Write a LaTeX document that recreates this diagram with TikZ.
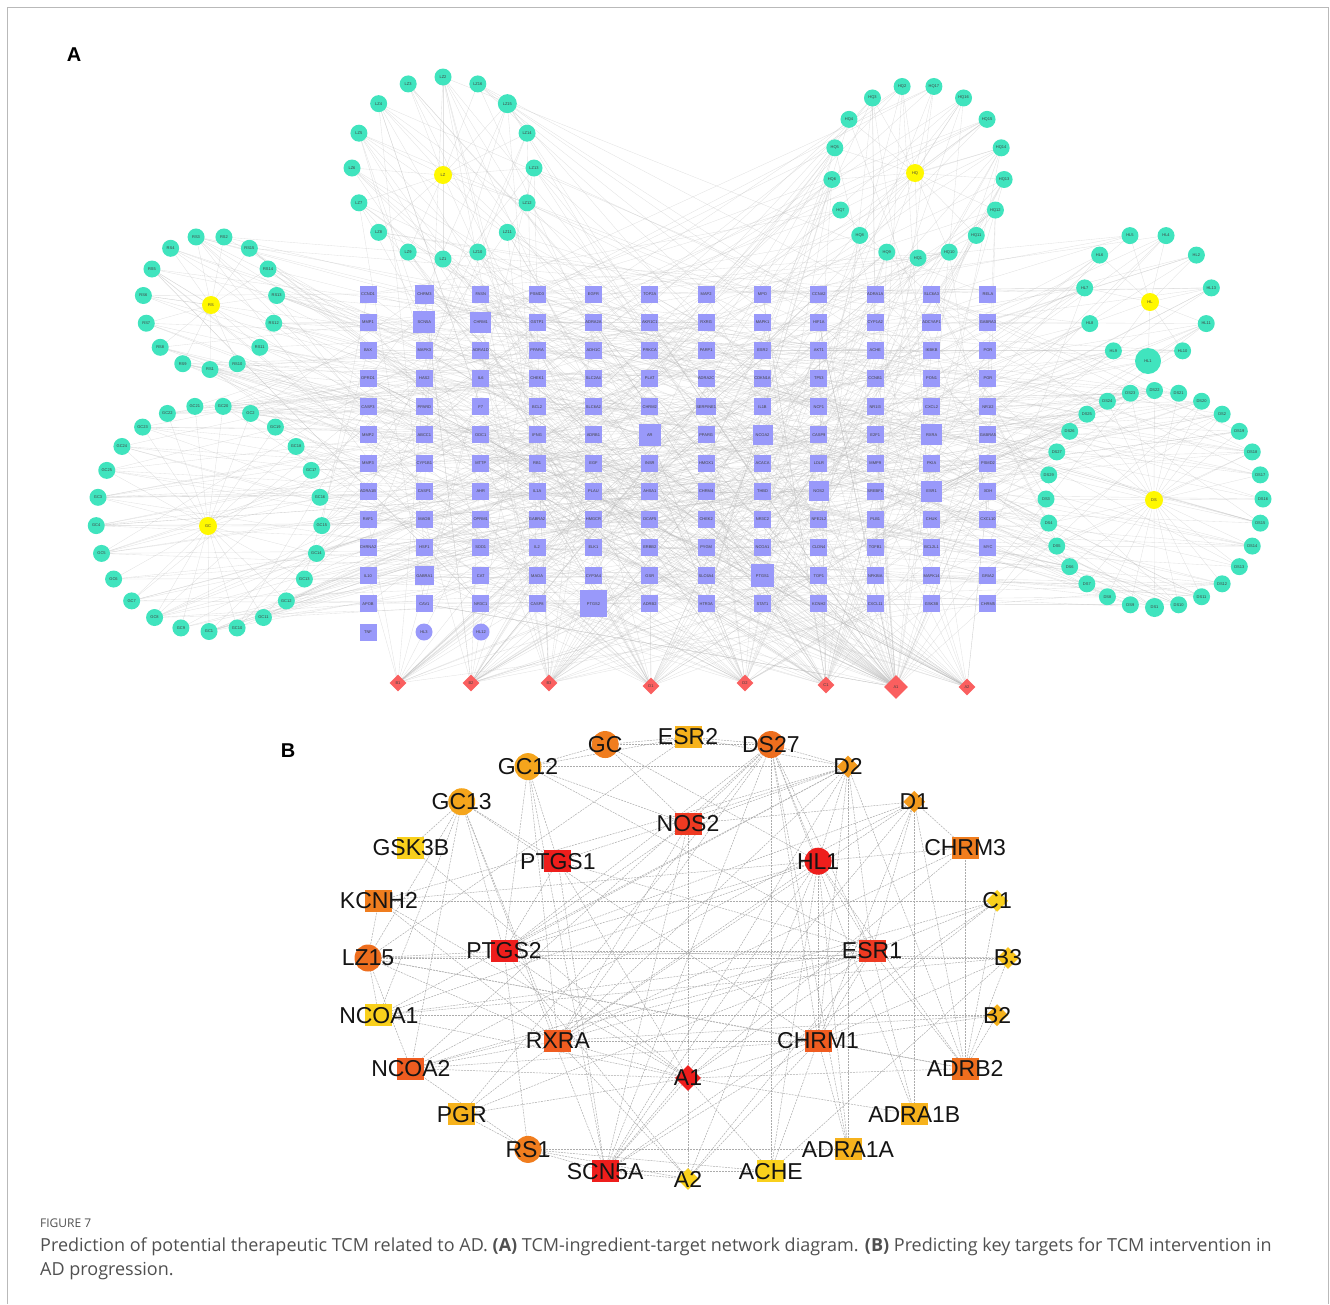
\documentclass[tikz,border=0pt]{standalone}
\usepackage{fontspec}
\setmainfont{Liberation Sans}
\newfontfamily\capfont{Open Sans}
\usetikzlibrary{shapes.geometric}
\pgfdeclarelayer{bg}
\pgfsetlayers{bg,main}
\definecolor{aqua}{RGB}{64,228,190}
\definecolor{lav}{RGB}{153,153,250}
\definecolor{yel}{RGB}{255,248,0}
\definecolor{dia}{RGB}{250,95,95}
\definecolor{bred}{RGB}{238,30,28}
\definecolor{bredb}{RGB}{238,58,34}
\definecolor{bored}{RGB}{240,92,32}
\definecolor{bora}{RGB}{240,125,30}
\definecolor{borab}{RGB}{238,110,30}
\definecolor{borac}{RGB}{243,154,28}
\definecolor{byor}{RGB}{246,178,28}
\definecolor{byorb}{RGB}{245,165,28}
\definecolor{byel}{RGB}{249,208,28}
\definecolor{byelb}{RGB}{248,196,28}
\definecolor{capgray}{RGB}{80,80,80}
\newcommand\tfA{\fontsize{4}{4}\selectfont}
\newcommand\bfnt{\fontsize{23}{23}\selectfont}
\def\LZlist{LZ1,LZ10,LZ11,LZ12,LZ13,LZ14,LZ15,LZ16,LZ2,LZ3,LZ4,LZ5,LZ6,LZ7,LZ8,LZ9}
\def\HQlist{HQ1,HQ10,HQ11,HQ12,HQ13,HQ14,HQ15,HQ16,HQ17,HQ2,HQ3,HQ4,HQ5,HQ6,HQ7,HQ8,HQ9}
\def\RSlist{RS1,RS10,RS11,RS12,RS13,RS14,RS15,RS2,RS3,RS4,RS5,RS6,RS7,RS8,RS9}
\def\GClist{GC1,GC10,GC11,GC12,GC13,GC14,GC15,GC16,GC17,GC18,GC19,GC2,GC20,GC21,GC22,GC23,GC24,GC25,GC3,GC4,GC5,GC6,GC7,GC8,GC9}
\def\HLlist{HL1,HL10,HL11,HL13,HL2,HL4,HL5,HL6,HL7,HL8,HL9}
\def\DSlist{DS1,DS10,DS11,DS12,DS13,DS14,DS15,DS16,DS17,DS18,DS19,DS2,DS20,DS21,DS22,DS23,DS24,DS25,DS26,DS27,DS29,DS3,DS4,DS5,DS6,DS7,DS8,DS9}
\newcommand\ringA[5]{%
  \foreach \nm [count=\i from 0] in #5 {
    \pgfmathsetmacro\ang{-90+\i*#4}
    \node[ingr, sz/\nm/.try] (a-\nm) at ({#1+#3*cos(\ang)},{#2-#3*sin(\ang)}) {\nm};
  }}
\newcommand\randedges[2]{%
  \foreach \j in {1,...,#2}{
    \pgfmathrandominteger{\cc}{1}{12}\pgfmathrandominteger{\rr}{1}{12}
    \draw[edgeA] (a-#1.center) -- (g-\cc-\rr.center);}}
\newcommand\herbedges[2]{%
  \foreach \nm in #2 {
    \draw[edgeA] (a-#1.center) -- (a-\nm.center);
    \pgfmathrandominteger{\kk}{3}{8}
    \randedges{\nm}{\kk}}}
\begin{document}
\begin{tikzpicture}[x=1pt,y=-1pt,
  ingr/.style={circle, fill=aqua, minimum size=17, inner sep=0, font=\tfA, text=black!75},
  herb/.style={circle, fill=yel, minimum size=18, inner sep=0, font=\tfA, text=black!75},
  tgt/.style={rectangle, fill=lav, minimum size=17, inner sep=0, font=\tfA, text=black!75},
  tgtc/.style={circle, fill=lav, minimum size=17, inner sep=0, font=\tfA, text=black!75},
  dis/.style={diamond, fill=dia, minimum size=17, inner sep=0, font=\tfA, text=black!75},
  edgeA/.style={draw=gray!55, line width=0.35, opacity=0.42},
  edgeB/.style={draw=gray!65, line width=0.5, dash pattern=on 2pt off 1pt},
  brect/.style={rectangle, minimum width=27, minimum height=22, inner sep=0},
  bcirc/.style={circle, minimum size=27, inner sep=0},
  bdia/.style={diamond, minimum size=22, inner sep=0},
  every label/.style={font=\bfnt, text=black!92, inner sep=0},
  sz/SCN5A/.style={minimum size=22}, sz/CHRM1/.style={minimum size=21},
  sz/CHRM3/.style={minimum size=19}, sz/PTGS2/.style={minimum size=27},
  sz/AR/.style={minimum size=22}, sz/PTGS1/.style={minimum size=23},
  sz/NCOA2/.style={minimum size=20}, sz/NOS2/.style={minimum size=20},
  sz/ESR1/.style={minimum size=21}, sz/RXRA/.style={minimum size=21},
  sz/GABRA1/.style={minimum size=19},
  sz/LZ15/.style={minimum size=19}, sz/HL1/.style={minimum size=26},
  sz/DS1/.style={minimum size=19}]
\useasboundingbox (0,0) rectangle (1330,1304);
\draw[gray!55, line width=0.8] (7,1304) -- (7,7) -- (1328,7) -- (1328,1304);
\node[font=\bfseries\fontsize{20}{20}\selectfont] (labA) at (74,55) {A};
\node[font=\bfseries\fontsize{20}{20}\selectfont] (labB) at (288,751) {B};
% ---------- panel A: target grid
\foreach \col [count=\ci] in {
 {CCND1,MMP1,BAX,OPRD1,CASP3,MMP2,MMP3,ADRA1B,RAF1,CHRNA2,IL10,APOB,TNF},
 {CHRM3,SCN5A,MAPK3,HAS2,PPARD,ABCC1,CYP1B1,CASP1,MAOB,HSF1,GABRA1,CAV1},
 {FASN,CHRM1,ADRA1D,IL6,F7,ODC1,MTTP,AHR,OPRM1,SOD1,CAT,NR3C1},
 {PSMD3,GSTP1,PPARA,CHEK1,BCL2,IFNG,RB1,IL1A,GABRA2,IL2,MAOA,CASP8},
 {EGFR,ADRA2A,ADH1C,SLC2A4,SLC6A2,ADRB1,EGF,PLAU,HMGCR,ELK1,CYP3A4,PTGS2},
 {TOP2A,AKR1C1,PRKCA,PLAT,CHRM2,AR,INSR,AHSA1,DCAF5,ERBB2,GSR,ADRB2},
 {MAP2,RXRG,PARP1,ADRA2C,SERPINE1,PPARG,HMOX1,CHRM4,CHEK2,PYGM,SLC6A4,HTR3A},
 {MPO,MAPK1,ESR2,CDKN1A,IL1B,NCOA2,ACACA,THBD,NR3C2,NCOA1,PTGS1,STAT1},
 {CCNA2,HIF1A,AKT1,TP53,NCF1,CASP9,LDLR,NOS2,NFE2L2,CLDN4,TOP1,KCNH2},
 {ADRA1A,CYP1A2,ACHE,CCNB1,NR1I3,E2F1,MMP9,SREBF1,PLB1,TGFB1,NFKBIA,CXCL11},
 {SLC6A3,ADCYAP1,IKBKB,PON1,CXCL2,RXRA,PKIA,ESR1,CHUK,BCL2L1,MAPK14,GSK3B},
 {RELA,GABRA3,POR,PGR,NR1I2,GABRA5,PSMD2,XDH,CXCL10,MYC,GRIA2,CHRM5}} {
  \foreach \lab [count=\ri] in \col {
    \node[tgt, sz/\lab/.try] (g-\ci-\ri) at ({368+56.36*(\ci-1)},{294+28.17*(\ri-1)}) {\lab};
  }
}
\node[tgtc] (g-2-13) at (424,632) {HL3};
\node[tgtc] (g-3-13) at (481,632) {HL12};
% ---------- panel A: herbs and ingredients
\node[herb] (a-LZ) at (443,175) {LZ};
\node[herb] (a-HQ) at (915,173) {HQ};
\node[herb] (a-RS) at (211,305) {RS};
\node[herb] (a-GC) at (208,526) {GC};
\node[herb] (a-HL) at (1150,302) {HL};
\node[herb] (a-DS) at (1154,500) {DS};
\ringA{443}{168}{91}{22.5}{\LZlist}
\ringA{918}{171.5}{86.5}{21.1765}{\HQlist}
\ringA{210}{302.5}{67}{24}{\RSlist}
\ringA{209}{518.5}{113}{14.4}{\GClist}
\ringA{1148}{297}{64}{32.7273}{\HLlist}
\ringA{1154.5}{499}{108.5}{12.8571}{\DSlist}
% ---------- panel A: diseases
\foreach \d/\px/\py in {B1/398/683, B2/471/683, B3/549/683, D1/651/686, D2/745/683, C1/826/685, A2/967/687}
  \node[dis] (a-\d) at (\px,\py) {\d};
\node[dis, minimum size=24] (a-A1) at (896,687) {A1};
% ---------- panel A: edges
\begin{pgfonlayer}{bg}
\pgfmathsetseed{2718}
\herbedges{LZ}{\LZlist}
\herbedges{HQ}{\HQlist}
\herbedges{RS}{\RSlist}
\herbedges{GC}{\GClist}
\herbedges{HL}{\HLlist}
\herbedges{DS}{\DSlist}
\foreach \d/\k in {B1/22, B2/28, B3/28, D1/32, D2/34, C1/36, A1/70, A2/28} {\randedges{\d}{\k}}
\end{pgfonlayer}
% ---------- panel B: nodes
\foreach \nm/\ang/\shp/\clr in {ESR2/90/brect/byor, GC/105/bcirc/bora, GC12/120/bcirc/byorb,
  GC13/135/bcirc/byorb, GSK3B/150/brect/byel, KCNH2/165/brect/bora, LZ15/180/bcirc/borab,
  NCOA1/195/brect/byel, NCOA2/210/brect/bored, PGR/225/brect/byor, RS1/240/bcirc/bora,
  SCN5A/255/brect/bred, A2/270/bdia/byel, ACHE/285/brect/byel, ADRA1A/300/brect/byor,
  ADRA1B/315/brect/byor, ADRB2/330/brect/borab, B2/345/bdia/byor, B3/0/bdia/byelb,
  C1/15/bdia/byel, CHRM3/30/brect/bora, D1/45/bdia/borac, D2/60/bdia/borac, DS27/75/bcirc/borab} {
  \node[\shp, fill=\clr, label={center:\nm}] (b-\nm) at ({688+320*cos(\ang)},{958-221*sin(\ang)}) {};
}
\foreach \nm/\ang/\shp/\clr in {CHRM1/315/brect/bored, ESR1/0/brect/bredb, HL1/45/bcirc/bred,
  NOS2/90/brect/bredb, PTGS1/135/brect/bred, PTGS2/180/brect/bred, RXRA/225/brect/bored} {
  \node[\shp, fill=\clr, label={center:\nm}] (b-\nm) at ({688+184*cos(\ang)},{951-127*sin(\ang)}) {};
}
\node[bdia, minimum size=26, fill=bred, label={center:A1}] (b-A1) at (688,1078) {};
% ---------- panel B: edges
\begin{pgfonlayer}{bg}
\foreach \u/\v in {GC12/PTGS1, GC12/PTGS2, GC12/RXRA, GC12/NOS2, GC12/ESR1, GC12/SCN5A, GC12/ESR2, GC12/D2,
 GC13/PTGS2, GC13/RXRA, GC13/SCN5A, GC13/NCOA2, GC13/NCOA1, GC13/PTGS1, GC13/CHRM1, GC13/GSK3B, GC13/LZ15,
 GC/DS27, GC/GC12, GC/ESR2, GC/HL1, GC/NOS2, ESR2/DS27, ESR2/D2, ESR2/LZ15,
 DS27/D2, DS27/HL1, DS27/ESR1, DS27/CHRM1, DS27/ADRA1A, DS27/ADRA1B, DS27/RXRA, DS27/SCN5A, DS27/PTGS2,
 DS27/NCOA2, DS27/ACHE, DS27/NOS2, DS27/PGR,
 D2/HL1, D2/ESR1, D2/RXRA, D2/PTGS2, D2/CHRM1, D2/ADRA1A, D2/ADRB2, D2/NCOA1, D2/KCNH2, D2/SCN5A, D2/PTGS1, D2/NOS2,
 D1/CHRM3, D1/ADRA1B, D1/ESR1, D1/PTGS2, D1/NCOA2, D1/CHRM1, D1/ADRB2, D1/SCN5A, D1/RXRA, D1/NOS2,
 CHRM3/HL1, CHRM3/A1, CHRM3/RXRA, CHRM3/ADRB2,
 HL1/ESR1, HL1/CHRM1, HL1/ADRA1A, HL1/ADRB2, HL1/SCN5A, HL1/PTGS2, HL1/NCOA1, HL1/KCNH2, HL1/ACHE, HL1/RXRA,
 KCNH2/C1, KCNH2/A1, KCNH2/LZ15, KCNH2/RXRA,
 C1/CHRM1, C1/ESR1, C1/ADRB2, C1/NCOA2, C1/SCN5A,
 LZ15/B3, LZ15/NCOA1, LZ15/PTGS2, LZ15/RXRA, LZ15/CHRM1, LZ15/NCOA2, LZ15/ESR1, LZ15/ADRB2,
 B3/PTGS2, B3/CHRM1, B3/ADRB2, B3/ACHE, B3/NCOA1,
 B2/NCOA1, B2/CHRM1, B2/ADRB2, B2/RXRA,
 A1/SCN5A, A1/RXRA, A1/ACHE, A1/CHRM1, A1/NCOA2, A1/PTGS2, A1/ADRA1B, A1/PGR, A1/ADRB2, A1/ESR1, A1/GSK3B, A1/NCOA1, A1/PTGS1,
 A2/SCN5A, A2/CHRM1, A2/RXRA, A2/HL1, A2/PTGS2, A2/ESR1, A2/RS1, A2/NOS2,
 RS1/PTGS2, RS1/PGR, RS1/SCN5A, RS1/NCOA2, RS1/ACHE, RS1/ADRA1A,
 SCN5A/ACHE, SCN5A/NOS2, SCN5A/CHRM1, NCOA2/ESR1, NCOA2/RXRA, NCOA2/CHRM1, NCOA1/ESR1,
 PGR/ESR1, PGR/RXRA, ADRA1A/CHRM1, ADRA1B/ESR1,
 PTGS1/PTGS2, PTGS1/SCN5A, PTGS1/ESR1, PTGS2/ESR1, RXRA/CHRM1, RXRA/ESR1, NOS2/PTGS2, NOS2/RXRA,
 ESR1/CHRM1, ESR1/ADRB2, ACHE/CHRM1, ADRB2/CHRM1}
  \draw[edgeB] (b-\u.center) -- (b-\v.center);
\end{pgfonlayer}
% ---------- caption
\node[anchor=base west, inner sep=0, font=\capfont\fontsize{12}{12}\selectfont, text=capgray] (capfig) at (40,1227) {FIGURE 7};
\node[anchor=base west, inner sep=0, font=\capfont\fontsize{18}{18}\selectfont, text=capgray] (cap1) at (40,1251)
  {Prediction of potential therapeutic TCM related to AD. \textbf{(A)} TCM-ingredient-target network diagram. \textbf{(B)} Predicting key targets for TCM intervention in};
\node[anchor=base west, inner sep=0, font=\capfont\fontsize{18}{18}\selectfont, text=capgray] (cap2) at (40,1275) {AD progression.};
\end{tikzpicture}
\end{document}
